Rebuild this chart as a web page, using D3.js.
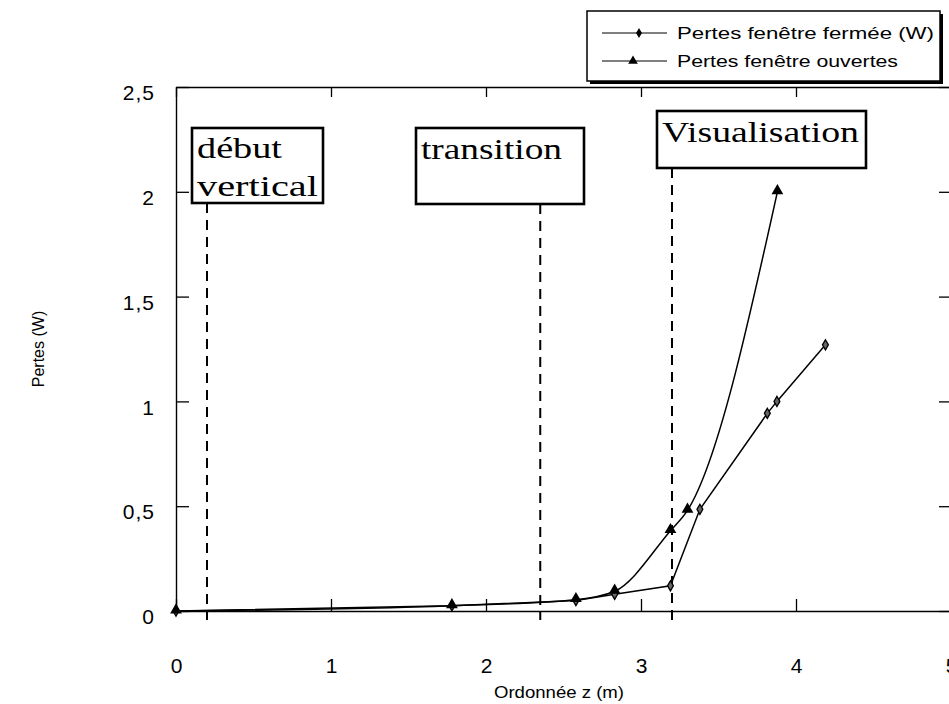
<!DOCTYPE html>
<html>
<head>
<meta charset="utf-8">
<script src="https://cdn.jsdelivr.net/npm/d3@7"></script>
<style>
  html, body { margin: 0; padding: 0; background: #fff; }
  svg { display: block; }
  .tick text { font-family: "Liberation Sans", Arial, sans-serif; }
</style>
</head>
<body>
<svg id="chart" width="949" height="704"></svg>
<script>
// Losses along the vertical ordinate z (m)
const closedZ    = [0, 1.78, 2.58, 2.83, 3.19, 3.38, 3.815, 3.877, 4.19];
const closedLoss = [0, 0.025, 0.05, 0.08, 0.12, 0.485, 0.943, 1.0, 1.27];
const openZ      = [0, 1.78, 2.58, 2.83, 3.19, 3.30, 3.88];
const openLoss   = [0, 0.025, 0.054, 0.094, 0.383, 0.48, 2.0];

const seriesNames = ["Pertes fenêtre fermée (W)", "Pertes fenêtre ouvertes"];

const xTicks = [0, 1, 2, 3, 4, 5];
const xTickLabels = ["0", "1", "2", "3", "4", "5"];
const yTicks = [0, 0.5, 1, 1.5, 2, 2.5];
const yTickLabels = ["0", "0,5", "1", "1,5", "2", "2,5"];

// Phase boundaries along z, with their captions
const phaseZ = [0.2, 2.35, 3.2];
const phaseLabels = [["début", "vertical"], ["transition"], ["Visualisation"]];

const xTitle = "Ordonnée z (m)";
const yTitle = "Pertes (W)";

const svg = d3.select("#chart");

const x = d3.scaleLinear().domain([0, 5]).range([176, 951]);
const y = d3.scaleLinear().domain([0, 2.5]).range([611, 87]);

const axisStyle = g => {
  g.select(".domain").attr("stroke", "#000").attr("stroke-width", 1.4);
  g.selectAll(".tick line").attr("stroke", "#000").attr("stroke-width", 1.3);
};

// Bottom axis: ticks point up, labels sit well below the frame
svg.append("g")
  .attr("transform", `translate(0,${y(0)})`)
  .call(d3.axisBottom(x).tickValues(xTicks)
    .tickFormat((d, i) => xTickLabels[i])
    .tickSizeInner(-12).tickSizeOuter(0).tickPadding(47))
  .call(axisStyle)
  .call(g => g.selectAll(".tick text").attr("font-size", 21).attr("fill", "#000"));

// Top frame edge
svg.append("g")
  .attr("transform", `translate(0,${y(2.5)})`)
  .call(d3.axisTop(x).tickValues(xTicks).tickFormat("")
    .tickSizeInner(-10).tickSizeOuter(0))
  .call(axisStyle);

// Left axis: inward ticks
svg.append("g")
  .attr("transform", `translate(${x(0)},0)`)
  .call(d3.axisLeft(y).tickValues(yTicks)
    .tickFormat((d, i) => yTickLabels[i])
    .tickSizeInner(-13).tickSizeOuter(0).tickPadding(21))
  .call(axisStyle)
  .call(g => g.selectAll(".tick text").attr("font-size", 21).attr("fill", "#000")
    .attr("letter-spacing", 1).attr("dy", "0.6em"));

// Right frame edge
svg.append("g")
  .attr("transform", `translate(${x(5)},0)`)
  .call(d3.axisRight(y).tickValues(yTicks).tickFormat("")
    .tickSizeInner(-12).tickSizeOuter(0))
  .call(axisStyle);

// Axis titles
svg.append("text")
  .attr("x", 494).attr("y", 698)
  .attr("font-family", "Liberation Sans, Arial, sans-serif")
  .attr("font-size", 17)
  .attr("textLength", 130).attr("lengthAdjust", "spacingAndGlyphs")
  .text(xTitle);

svg.append("text")
  .attr("transform", `translate(44,${y(1.25)}) rotate(-90)`)
  .attr("text-anchor", "middle")
  .attr("font-family", "Liberation Sans, Arial, sans-serif")
  .attr("font-size", 16)
  .text(yTitle);

// Phase boxes and dashed boundaries
const boxes = [
  { x: 192, y: 128, w: 131, h: 75, lines: [158, 196], tl: [85, 121] },
  { x: 416, y: 128, w: 168, h: 76, lines: [159], tl: [141] },
  { x: 657, y: 111, w: 209, h: 57, lines: [142], tl: [197] }
];

phaseZ.forEach((z, i) => {
  const b = boxes[i];
  svg.append("line")
    .attr("x1", x(z)).attr("x2", x(z))
    .attr("y1", b.y + b.h).attr("y2", 620)
    .attr("stroke", "#000").attr("stroke-width", 2)
    .attr("stroke-dasharray", "10,7");
  svg.append("rect")
    .attr("x", b.x).attr("y", b.y).attr("width", b.w).attr("height", b.h)
    .attr("fill", "#fff").attr("stroke", "#000").attr("stroke-width", 2.6);
  phaseLabels[i].forEach((t, j) => {
    svg.append("text")
      .attr("x", b.x + 5).attr("y", b.lines[j])
      .attr("font-family", "Liberation Serif, Times New Roman, serif")
      .attr("font-size", 30)
      .attr("textLength", b.tl[j])
      .attr("lengthAdjust", "spacingAndGlyphs")
      .text(t);
  });
});

// Curves: closed window drawn segment by segment, open window smoothed
const closedData = closedZ.map((z, i) => [z, closedLoss[i]]);
const openData = openZ.map((z, i) => [z, openLoss[i]]);

const closedLine = d3.line()
  .x(d => x(d[0])).y(d => y(d[1]))
  .curve(d3.curveLinear);
const openLine = d3.line()
  .x(d => x(d[0])).y(d => y(d[1]))
  .curve(d3.curveMonotoneX);

svg.append("path").datum(closedData)
  .attr("d", closedLine).attr("fill", "none")
  .attr("stroke", "#000").attr("stroke-width", 1.5);
svg.append("path").datum(openData)
  .attr("d", openLine).attr("fill", "none")
  .attr("stroke", "#000").attr("stroke-width", 1.5);

const diamond = d3.symbol().type(d3.symbolDiamond).size(30);
const triangle = d3.symbol().type(d3.symbolTriangle).size(60);

svg.append("g").selectAll("path").data(closedData).join("path")
  .attr("transform", d => `translate(${x(d[0])},${y(d[1])})`)
  .attr("d", diamond)
  .attr("fill", "#666").attr("stroke", "#000").attr("stroke-width", 1.3);

svg.append("g").selectAll("path").data(openData).join("path")
  .attr("transform", d => `translate(${x(d[0])},${y(d[1]) - 1})`)
  .attr("d", triangle)
  .attr("fill", "#000");

// Legend
const lg = svg.append("g");
lg.append("rect").attr("x", 590).attr("y", 14).attr("width", 353).attr("height", 70).attr("fill", "#000");
lg.append("rect").attr("x", 587).attr("y", 11).attr("width", 353).attr("height", 70)
  .attr("fill", "#fff").attr("stroke", "#000").attr("stroke-width", 1.5);

const legendRows = [
  { y: 33, sym: d3.symbol().type(d3.symbolDiamond).size(30), mx: 639, tl: 257 },
  { y: 61, sym: d3.symbol().type(d3.symbolTriangle).size(40), mx: 633, tl: 221 }
];
legendRows.forEach((r, i) => {
  lg.append("line").attr("x1", 602).attr("x2", 667).attr("y1", r.y).attr("y2", r.y)
    .attr("stroke", "#000").attr("stroke-width", 1.2);
  lg.append("path").attr("transform", `translate(${r.mx},${r.y})`)
    .attr("d", r.sym).attr("fill", "#000");
  lg.append("text").attr("x", 677).attr("y", r.y + 6)
    .attr("font-family", "Liberation Sans, Arial, sans-serif")
    .attr("font-size", 17)
    .attr("textLength", r.tl).attr("lengthAdjust", "spacingAndGlyphs")
    .text(seriesNames[i]);
});
</script>
</body>
</html>
